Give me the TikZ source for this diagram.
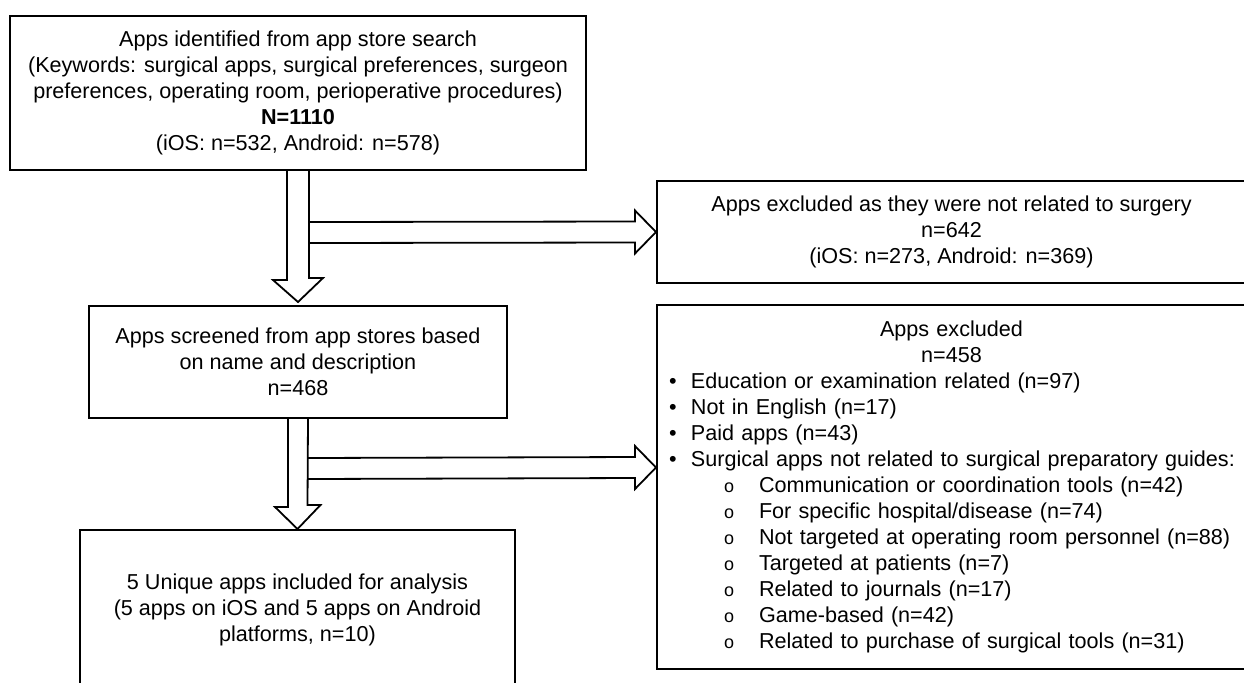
\documentclass[tikz,border=0pt]{standalone}
\usepackage{fontspec}
\setmainfont{Liberation Sans}
\usetikzlibrary{calc}
\tikzstyle{process} = [rectangle, draw, line width=1pt, text centered, align=center, font=\fontsize{10.8}{13}\selectfont]
\tikzstyle{listbox} = [rectangle, draw, line width=1pt, align=left, text width=284.5pt, inner xsep=5pt, font=\fontsize{10.8}{13}\selectfont]
\tikzstyle{hollow} = [line width=0.9pt, line join=miter]
\newcommand{\bul}[1]{\makebox[12pt][l]{\hspace{1pt}\textbullet}#1}
\newcommand{\subbul}[1]{\hspace*{28.5pt}\makebox[17.5pt][l]{\fontsize{9}{13}\selectfont o}#1}

\begin{document}
\begin{tikzpicture}[x=0.5pt,y=-0.5pt]
            \useasboundingbox (0,0) rectangle (1244,682);
            \node [process, minimum width=288pt, minimum height=77pt] at (298,93) (ident) {Apps identified from app store search\\(Keywords: surgical apps, surgical preferences, surgeon\\preferences, operating room, perioperative procedures)\\\textbf{N=1110}\\(iOS: n=532, Android: n=578)};
            \node [process, minimum width=294.5pt, minimum height=51pt] at (951.5,232) (excl1) {Apps excluded as they were not related to surgery\\n=642\\(iOS: n=273, Android: n=369)};
            \node [process, minimum width=209pt, minimum height=56pt] at (298,362) (screen) {Apps screened from app stores based\\on name and description\\n=468};
            \node [listbox, minimum height=182pt] at (951.5,487) (excl2) {{\centering Apps excluded\\n=458\par}
                \bul{Education or examination related (n=97)}\\
                \bul{Not in English (n=17)}\\
                \bul{Paid apps (n=43)}\\
                \bul{Surgical apps not related to surgical preparatory guides:}\\
                \subbul{Communication or coordination tools (n=42)}\\
                \subbul{For specific hospital/disease (n=74)}\\
                \subbul{Not targeted at operating room personnel (n=88)}\\
                \subbul{Targeted at patients (n=7)}\\
                \subbul{Related to journals (n=17)}\\
                \subbul{Game-based (n=42)}\\
                \subbul{Related to purchase of surgical tools (n=31)}};
            \node [process, minimum width=217.5pt, minimum height=80pt] at (297.5,610) (incl) {5 Unique apps included for analysis\\(5 apps on iOS and 5 apps on Android\\platforms, n=10)};
            \coordinate (tip2) at ($(excl2.west)+(0,-19.5)$);
            % down arrows
            \draw [hollow] ($(ident.south)+(-11,0)$) -- ++(0,109) -- ++(-14,0) -- ($(screen.north)+(0,-3)$) -- ++(25,-24) -- ++(-14,0) -- ($(ident.south)+(11,0)$);
            \draw [hollow] ($(screen.south)+(-10,0)$) -- ++(0,88) -- ++(-13,0) -- (incl.north) -- ++(23,-24) -- ++(-13,0) -- ($(screen.south)+(10,0)$);
            % side arrows
            \draw [hollow] ($(ident.south)+(11,72)$) -- ($(excl1.west)+(-21,10.5)$) -- ++(0,11) -- (excl1.west) -- ++(-21,-21.5) -- ++(0,11) -- ($(ident.south)+(11,51)$);
            \draw [hollow] ($(screen.south)+(10,60)$) -- ($(tip2)+(-21,10.5)$) -- ++(0,11) -- (tip2) -- ++(-21,-21.5) -- ++(0,11) -- ($(screen.south)+(10,39)$);
\end{tikzpicture}
\end{document}
